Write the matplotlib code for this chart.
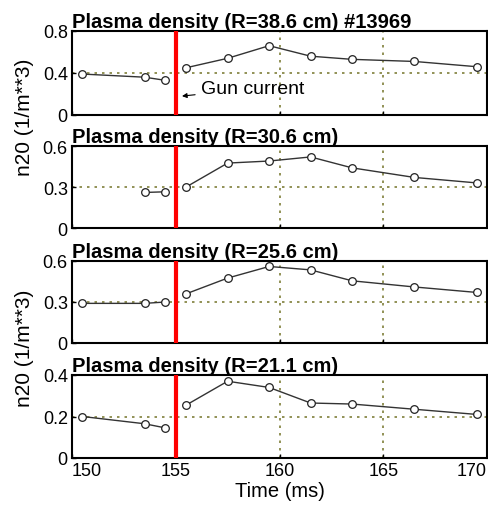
import matplotlib.pyplot as plt

plt.rcParams['font.family'] = ['Liberation Sans', 'DejaVu Sans']

# time points (ms)
t_before = [150.5, 153.5, 154.5]
t_after = [155.5, 157.5, 159.5, 161.5, 163.5, 166.5, 169.5]

radii = ['38.6', '30.6', '25.6', '21.1']

# densities before gun current (n20)
n_before = [
    [0.39, 0.36, 0.33],
    [None, 0.26, 0.265],
    [0.29, 0.29, 0.30],
    [0.20, 0.165, 0.145],
]
# densities after gun current
n_after = [
    [0.45, 0.54, 0.66, 0.56, 0.53, 0.51, 0.46],
    [0.30, 0.475, 0.49, 0.52, 0.44, 0.37, 0.33],
    [0.36, 0.475, 0.56, 0.535, 0.455, 0.41, 0.37],
    [0.255, 0.37, 0.34, 0.265, 0.26, 0.235, 0.21],
]
ymax = [0.8, 0.6, 0.6, 0.4]
ytick_labels = [['0', '0.4', '0.8'], ['0', '0.3', '0.6'],
                ['0', '0.3', '0.6'], ['0', '0.2', '0.4']]
xticks = [150, 155, 160, 165, 170]
gun_time = 155

fig = plt.figure(figsize=(4.88, 5.06), dpi=100)
# axes boxes in pixels: (top, bottom)
boxes = [(32, 116), (147, 229), (262, 344), (376, 459)]
grid_color = '#7f7f3a'

for i, (top, bot) in enumerate(boxes):
    ax = fig.add_axes([72 / 488, 1 - bot / 506, 415 / 488, (bot - top) / 506])
    tb = [t for t, v in zip(t_before, n_before[i]) if v is not None]
    vb = [v for v in n_before[i] if v is not None]
    style = dict(color='#333333', lw=1.0, marker='o', ms=5.5,
                 mfc='white', mec='#222222', mew=0.9)
    ax.plot(tb, vb, **style)
    ax.plot(t_after, n_after[i], **style)
    ax.axvline(gun_time, color='#ff0000', lw=3, zorder=5)
    ax.axhline(ymax[i] / 2, color=grid_color, ls=(0, (1.5, 3)), lw=1.2, zorder=0)
    for g in (160, 165):
        ax.axvline(g, color=grid_color, ls=(0, (1.5, 3)), lw=1.2, zorder=0)
    ax.set_xlim(150, 170)
    ax.set_ylim(0, ymax[i])
    ax.set_yticks([0, ymax[i] / 2, ymax[i]])
    ax.set_yticklabels(ytick_labels[i])
    ax.set_xticks(xticks)
    ax.tick_params(direction='in', length=3, width=1, labelsize=13, pad=3)
    if i < 3:
        ax.set_xticklabels([])
    else:
        ax.set_xticklabels([str(x) for x in xticks])
        labels = ax.get_xticklabels()
        labels[0].set_ha('left')
        labels[-1].set_ha('right')
        ax.set_xlabel('Time (ms)', fontsize=14.5, labelpad=1)
    for s in ax.spines.values():
        s.set_linewidth(1.5)
    title = 'Plasma density (R=%s cm)' % radii[i]
    if i == 0:
        title += ' #13969'
    ax.set_title(title, fontsize=14.5, fontweight='bold', loc='left', pad=3)
    if i == 0:
        ax.annotate('Gun current', xy=(155.3, 0.18), xytext=(156.2, 0.25),
                    fontsize=14, va='center',
                    arrowprops=dict(arrowstyle='-|>', color='black', lw=0.8,
                                    shrinkA=2, shrinkB=0, mutation_scale=7))

fig.text(25 / 488, 1 - 117 / 506, 'n20 (1/m**3)', rotation=90,
         ha='center', va='center', fontsize=15)
fig.text(25 / 488, 1 - 348 / 506, 'n20 (1/m**3)', rotation=90,
         ha='center', va='center', fontsize=15)

fig.savefig('out.png', dpi=100)
